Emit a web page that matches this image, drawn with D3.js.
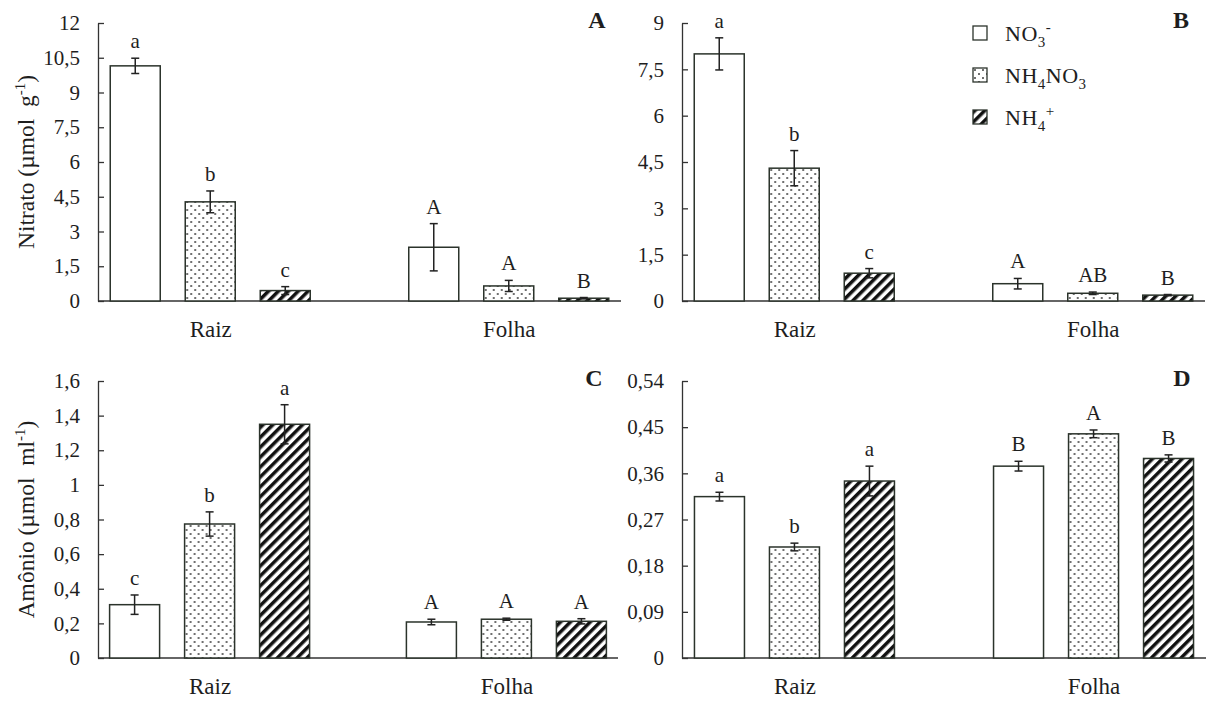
<!DOCTYPE html>
<html>
<head>
<meta charset="utf-8">
<script src="https://cdn.jsdelivr.net/npm/d3@7"></script>
<style>
  body { margin: 0; background: #fff; }
  svg text { font-family: "Liberation Serif", Tinos, "Times New Roman", Times, serif; fill: #1e1e1e; }
</style>
</head>
<body>
<div id="chart"></div>
<script>
// groups and treatments
var groups = ["Raiz", "Folha"];
var series = ["NO3", "NH4NO3", "NH4"];
var fills = ["white", "url(#dots)", "url(#hatch)"];

// A - nitrato, first harvest
var aMean = [[10.15, 4.28, 0.45], [2.32, 0.65, 0.12]];
var aErr = [[0.33, 0.47, 0.17], [1.02, 0.24, 0.03]];
var aLetters = [["a", "b", "c"], ["A", "A", "B"]];
var aTicks = [0, 1.5, 3, 4.5, 6, 7.5, 9, 10.5, 12];

// B - nitrato, second harvest
var bMean = [[8.0, 4.3, 0.9], [0.56, 0.25, 0.19]];
var bErr = [[0.52, 0.57, 0.15], [0.17, 0.04, 0.02]];
var bLetters = [["a", "b", "c"], ["A", "AB", "B"]];
var bTicks = [0, 1.5, 3, 4.5, 6, 7.5, 9];

// C - amonio, first harvest
var cMean = [[0.308, 0.774, 1.35], [0.208, 0.224, 0.212]];
var cErr = [[0.056, 0.07, 0.113], [0.016, 0.006, 0.015]];
var cLetters = [["c", "b", "a"], ["A", "A", "A"]];
var cTicks = [0, 0.2, 0.4, 0.6, 0.8, 1, 1.2, 1.4, 1.6];

// D - amonio, second harvest
var dMean = [[0.3146, 0.2164, 0.345], [0.374, 0.437, 0.389]];
var dErr = [[0.0085, 0.0075, 0.029], [0.0095, 0.0075, 0.007]];
var dLetters = [["a", "b", "a"], ["B", "A", "B"]];
var dTicks = [0, 0.09, 0.18, 0.27, 0.36, 0.45, 0.54];

var svgWidth = 1208;
var svgHeight = 704;

var svg = d3.select("#chart").append("svg")
    .attr("width", svgWidth)
    .attr("height", svgHeight);

// fill patterns
var defs = svg.append("defs");
var dots = defs.append("pattern")
    .attr("id", "dots")
    .attr("patternUnits", "userSpaceOnUse")
    .attr("width", 8).attr("height", 8);
dots.append("rect").attr("width", 8).attr("height", 8).attr("fill", "white");
dots.append("circle").attr("cx", 2).attr("cy", 2).attr("r", 0.95).attr("fill", "#333");
dots.append("circle").attr("cx", 6).attr("cy", 6).attr("r", 0.95).attr("fill", "#333");

var hatch = defs.append("pattern")
    .attr("id", "hatch")
    .attr("patternUnits", "userSpaceOnUse")
    .attr("width", 7).attr("height", 7)
    .attr("patternTransform", "rotate(45)");
hatch.append("rect").attr("width", 7).attr("height", 7).attr("fill", "white");
hatch.append("rect").attr("width", 3.5).attr("height", 7).attr("fill", "#111");

function fmt(v) {
  return String(v).replace(".", ",");
}

function drawPanel(opt) {
  var g = svg.append("g");

  var x = d3.scalePoint()
      .domain(groups)
      .range([opt.x0, opt.x1])
      .padding(0.376);

  var xs = d3.scaleBand()
      .domain(series)
      .range([-112.5, 112.5])
      .paddingInner(1 / 3)
      .paddingOuter(1 / 6);

  var y = d3.scaleLinear()
      .domain([0, opt.ticks[opt.ticks.length - 1]])
      .range([opt.y0, opt.y1]);

  // y axis, ticks pointing inside
  var yAxis = d3.axisLeft(y)
      .tickValues(opt.ticks)
      .tickFormat(fmt)
      .tickSizeInner(-6)
      .tickSizeOuter(0)
      .tickPadding(18);

  var ya = g.append("g")
      .attr("transform", `translate(${opt.x0},0)`)
      .call(yAxis)
      .attr("font-family", null);
  ya.selectAll("path, line").attr("stroke", "#333").attr("stroke-width", 1.3);
  ya.selectAll("text")
      .style("font-size", "21px")
      .attr("fill", "#1e1e1e");

  // x axis baseline, no ticks
  var xAxis = d3.axisBottom(x).tickSize(0).tickPadding(20);
  var xa = g.append("g")
      .attr("transform", `translate(0,${opt.y0})`)
      .call(xAxis)
      .attr("font-family", null);
  xa.select("path").attr("stroke", "#333").attr("stroke-width", 1.3)
      .attr("d", `M${opt.x0},0H${opt.x1}`);
  xa.selectAll("text")
      .style("font-size", "23px")
      .attr("fill", "#1e1e1e");

  var rows = [];
  groups.forEach(function(grp, gi) {
    series.forEach(function(s, si) {
      rows.push({
        group: grp,
        s: s,
        si: si,
        mean: opt.mean[gi][si],
        err: opt.err[gi][si],
        letter: opt.letters[gi][si]
      });
    });
  });

  var bar = g.selectAll(".bar")
      .data(rows)
      .enter()
      .append("g")
      .attr("class", "bar")
      .attr("transform", d => `translate(${x(d.group) + xs(d.s)},0)`);

  bar.append("rect")
      .attr("x", 0)
      .attr("y", d => y(d.mean))
      .attr("width", xs.bandwidth())
      .attr("height", d => opt.y0 - y(d.mean))
      .attr("fill", d => fills[d.si])
      .attr("stroke", "#2b332b")
      .attr("stroke-width", 1.5);

  var cx = xs.bandwidth() / 2;
  bar.append("line")
      .attr("x1", cx).attr("x2", cx)
      .attr("y1", d => y(d.mean + d.err))
      .attr("y2", d => y(d.mean - d.err))
      .attr("stroke", "#222").attr("stroke-width", 1.5);
  bar.append("line")
      .attr("x1", cx - 4).attr("x2", cx + 4)
      .attr("y1", d => y(d.mean + d.err))
      .attr("y2", d => y(d.mean + d.err))
      .attr("stroke", "#222").attr("stroke-width", 1.5);
  bar.append("line")
      .attr("x1", cx - 4).attr("x2", cx + 4)
      .attr("y1", d => y(d.mean - d.err))
      .attr("y2", d => y(d.mean - d.err))
      .attr("stroke", "#222").attr("stroke-width", 1.5);

  bar.append("text")
      .attr("x", cx)
      .attr("y", d => y(d.mean + d.err) - 10)
      .attr("text-anchor", "middle")
      .style("font-size", "21px")
      .text(d => d.letter);

  // panel letter
  g.append("text")
      .attr("x", opt.x1 - 24)
      .attr("y", opt.y1 + 5)
      .attr("text-anchor", "middle")
      .style("font-size", "24px")
      .style("font-weight", "bold")
      .text(opt.name);

  // y axis title
  if (opt.title) {
    var t = g.append("text")
        .attr("transform", `translate(34,${(opt.y0 + opt.y1) / 2}) rotate(-90)`)
        .attr("text-anchor", "middle")
        .style("font-size", "23.5px");
    t.append("tspan").text(opt.title[0]);
    t.append("tspan").attr("dy", -9).style("font-size", "15px").text(opt.title[1]);
    t.append("tspan").attr("dy", 9).text(opt.title[2]);
  }
}

drawPanel({name: "A", x0: 98, x1: 621, y0: 301, y1: 23,
  mean: aMean, err: aErr, letters: aLetters, ticks: aTicks,
  title: ["Nitrato (µmol\u00a0 g", "-1", ")"]});
drawPanel({name: "B", x0: 682, x1: 1205, y0: 301, y1: 23,
  mean: bMean, err: bErr, letters: bLetters, ticks: bTicks});
drawPanel({name: "C", x0: 98, x1: 618, y0: 658, y1: 381,
  mean: cMean, err: cErr, letters: cLetters, ticks: cTicks,
  title: ["Amônio (µmol\u00a0 ml", "-1", ")"]});
drawPanel({name: "D", x0: 682, x1: 1206, y0: 658, y1: 381,
  mean: dMean, err: dErr, letters: dLetters, ticks: dTicks});

// legend
var legend = svg.append("g").attr("transform", "translate(973,26)");
var legendRows = [
  [["NO", 0], ["3", 1], ["-", -1]],
  [["NH", 0], ["4", 1], ["NO", 0], ["3", 1]],
  [["NH", 0], ["4", 1], ["+", -1]]
];
legendRows.forEach(function(parts, i) {
  var row = legend.append("g").attr("transform", `translate(0,${i * 42})`);
  row.append("rect")
      .attr("width", 14).attr("height", 14)
      .attr("fill", fills[i])
      .attr("stroke", "#2b332b").attr("stroke-width", 1.3);
  var t = row.append("text")
      .attr("x", 32).attr("y", 15)
      .style("font-size", "22px")
      .style("letter-spacing", "0.5px");
  var shift = 0;
  parts.forEach(function(p) {
    var dy = p[1] === 1 ? 6 : (p[1] === -1 ? -9 : 0);
    t.append("tspan")
        .attr("dy", dy - shift)
        .style("font-size", p[1] === 0 ? "22px" : "15px")
        .text(p[0]);
    shift = dy;
  });
});
</script>
</body>
</html>
